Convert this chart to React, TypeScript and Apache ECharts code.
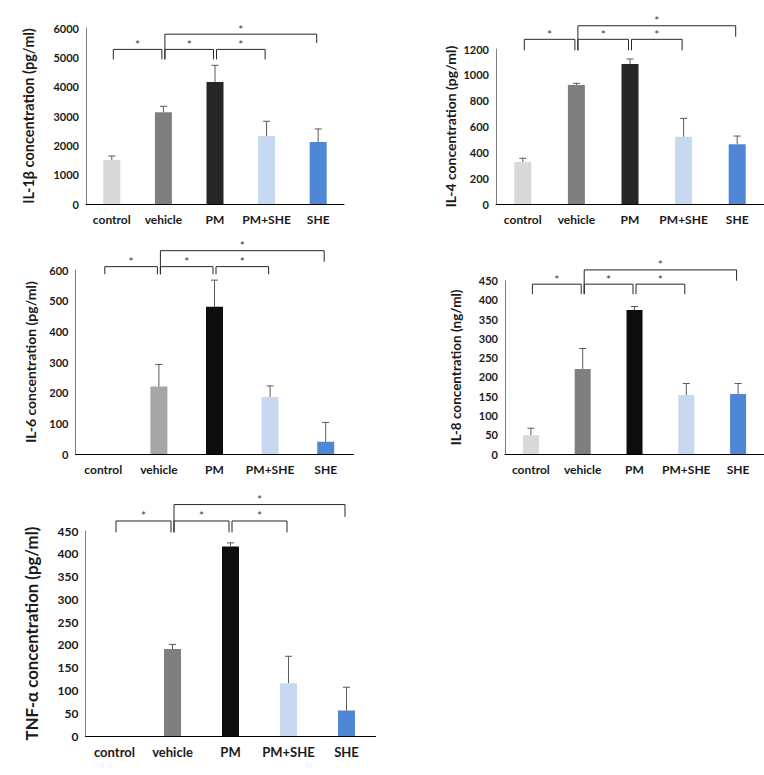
import React, { useEffect, useRef } from 'react';
import * as echarts from 'echarts';

const categories = ['control', 'vehicle', 'PM', 'PM+SHE', 'SHE'];

const il1bMean = [1500, 3125, 4160, 2320, 2115];
const il1bErr = [136, 205, 568, 500, 443];
const il4Mean = [325, 921, 1084, 521, 462];
const il4Err = [29, 13, 39, 142, 64];
const il6Mean = [0, 220, 480, 186, 40];
const il6Err = [0, 72, 87, 36, 63];
const il8Mean = [49, 221, 374, 153, 156];
const il8Err = [18, 53, 9, 30, 27];
const tnfMean = [0, 191, 416, 116, 56];
const tnfErr = [0, 10, 8, 59, 51];

// brackets: [fromIndex, toIndex, lineValue, leftDropValue, rightDropValue]
const il1bBrackets = [[0, 1, 5270, 4930, 4930], [1, 2, 5270, 4930, 4930], [2, 3, 5270, 4930, 4930], [1, 4, 5790, 4930, 5490]];
const il4Brackets = [[0, 1, 1275, 1190, 1190], [1, 2, 1275, 1190, 1190], [2, 3, 1275, 1190, 1190], [1, 4, 1380, 1190, 1295]];
const il6Brackets = [[0, 1, 611, 586, 586], [1, 2, 611, 586, 586], [2, 3, 611, 586, 586], [1, 4, 663, 586, 627]];
const il8Brackets = [[0, 1, 441, 415, 415], [1, 2, 441, 415, 415], [2, 3, 441, 415, 415], [1, 4, 478, 415, 450]];
const tnfBrackets = [[0, 1, 472, 447, 447], [1, 2, 472, 447, 447], [2, 3, 472, 447, 447], [1, 4, 508, 447, 481]];

const colorsA = ['#d9d9d9', '#7f7f7f', '#262626', '#c6d9f1', '#4f87d6'];
const colorsB = ['#d9d9d9', '#a6a6a6', '#0d0d0d', '#c6d9f1', '#4f87d6'];
const colorsC = ['#d9d9d9', '#7f7f7f', '#0d0d0d', '#c6d9f1', '#4f87d6'];

const FONT = 'Lato, "Noto Sans", sans-serif';

type PanelCfg = {
  grid: { left: number; top: number; width: number; height: number };
  name: string;
  max: number;
  interval: number;
  means: number[];
  errs: number[];
  colors: string[];
  brackets: number[][];
  nameGap: number;
  nameSize: number;
  tickSize: number;
  catSize: number;
  barWidth: number;
};

const panels: PanelCfg[] = [
  { grid: { left: 86, top: 28, width: 258, height: 176 }, name: 'IL-1β concentration (pg/ml)', max: 6000, interval: 1000, means: il1bMean, errs: il1bErr, colors: colorsA, brackets: il1bBrackets, nameGap: 50, nameSize: 14.5, tickSize: 11, catSize: 12, barWidth: 17 },
  { grid: { left: 496, top: 49, width: 268, height: 155 }, name: 'IL-4 concentration (pg/ml)', max: 1200, interval: 200, means: il4Mean, errs: il4Err, colors: colorsA, brackets: il4Brackets, nameGap: 39, nameSize: 14, tickSize: 11, catSize: 12, barWidth: 17 },
  { grid: { left: 75.5, top: 270, width: 278, height: 184 }, name: 'IL-6 concentration (pg/ml)', max: 600, interval: 100, means: il6Mean, errs: il6Err, colors: colorsB, brackets: il6Brackets, nameGap: 38, nameSize: 14, tickSize: 11, catSize: 12, barWidth: 17 },
  { grid: { left: 505, top: 280.7, width: 259, height: 173.3 }, name: 'IL-8 concentration (ng/ml)', max: 450, interval: 50, means: il8Mean, errs: il8Err, colors: colorsC, brackets: il8Brackets, nameGap: 42, nameSize: 13.5, tickSize: 11, catSize: 12, barWidth: 16 },
  { grid: { left: 85.5, top: 531, width: 290, height: 205 }, name: 'TNF-α concentration (pg/ml)', max: 450, interval: 50, means: tnfMean, errs: tnfErr, colors: colorsC, brackets: tnfBrackets, nameGap: 46, nameSize: 16.8, tickSize: 12, catSize: 13, barWidth: 17 },
];

function buildOption() {
  const grid: any[] = [];
  const xAxis: any[] = [];
  const yAxis: any[] = [];
  const series: any[] = [];
  panels.forEach((p, i) => {
    grid.push({ ...p.grid, containLabel: false });
    xAxis.push({
      type: 'category',
      gridIndex: i,
      data: categories,
      axisLine: { show: true, lineStyle: { color: '#000', width: 1 } },
      axisTick: { show: false },
      axisLabel: { color: '#1a1a1a', fontWeight: 'bold', fontSize: p.catSize, fontFamily: FONT, margin: 9, interval: 0 },
      splitLine: { show: false },
    });
    yAxis.push({
      type: 'value',
      gridIndex: i,
      min: 0,
      max: p.max,
      interval: p.interval,
      name: p.name,
      nameLocation: 'middle',
      nameRotate: 90,
      nameGap: p.nameGap,
      nameTextStyle: { color: '#1a1a1a', fontWeight: 'bold', fontSize: p.nameSize, fontFamily: FONT },
      axisLine: { show: true, lineStyle: { color: '#7f7f7f', width: 1 } },
      axisTick: { show: false },
      axisLabel: { color: '#1a1a1a', fontWeight: 'bold', fontSize: p.tickSize, fontFamily: FONT, margin: 7, formatter: (v: number) => String(v) },
      splitLine: { show: false },
    });
    series.push({
      type: 'bar',
      xAxisIndex: i,
      yAxisIndex: i,
      barWidth: p.barWidth,
      data: p.means.map((v, k) => ({ value: v, itemStyle: { color: p.colors[k] } })),
      z: 2,
    });
    series.push({
      type: 'custom',
      xAxisIndex: i,
      yAxisIndex: i,
      z: 3,
      encode: { x: 0, y: 1 },
      data: p.means.map((v, k) => [k, v, p.errs[k]]),
      renderItem: (params: any, api: any) => {
        const x = api.value(0);
        const v = api.value(1);
        const e = api.value(2);
        if (!e) return null;
        const p0 = api.coord([x, v]);
        const p1 = api.coord([x, v + e]);
        const st = { stroke: '#595959', lineWidth: 1 };
        return {
          type: 'group',
          children: [
            { type: 'line', shape: { x1: p0[0], y1: p0[1], x2: p1[0], y2: p1[1] }, style: st },
            { type: 'line', shape: { x1: p1[0] - 3.5, y1: p1[1], x2: p1[0] + 3.5, y2: p1[1] }, style: st },
          ],
        };
      },
    });
    series.push({
      type: 'custom',
      xAxisIndex: i,
      yAxisIndex: i,
      z: 4,
      clip: false,
      encode: { x: 0, y: 2 },
      data: p.brackets,
      renderItem: (params: any, api: any) => {
        const a = api.value(0);
        const b = api.value(1);
        const lineV = api.value(2);
        const dl = api.value(3);
        const dr = api.value(4);
        const pa = api.coord([a, lineV]);
        const pb = api.coord([b, lineV]);
        const pdl = api.coord([a, dl]);
        const pdr = api.coord([b, dr]);
        const xl = pa[0] + 1.5;
        const xr = pb[0] - 1.5;
        return {
          type: 'group',
          children: [
            {
              type: 'polyline',
              shape: { points: [[xl, pdl[1]], [xl, pa[1]], [xr, pb[1]], [xr, pdr[1]]] },
              style: { stroke: '#262626', lineWidth: 1, fill: 'none' },
            },
            {
              type: 'text',
              x: (xl + xr) / 2,
              y: pa[1] - 5,
              style: { text: '*', fill: '#404040', fontSize: 12, fontFamily: FONT, align: 'center', verticalAlign: 'middle' },
            },
          ],
        };
      },
    });
  });
  return { animation: false, backgroundColor: '#fff', grid, xAxis, yAxis, series };
}

export default function App() {
  const ref = useRef<HTMLDivElement>(null);
  useEffect(() => {
    if (!ref.current) return;
    const chart = echarts.init(ref.current, undefined, { renderer: 'svg' });
    chart.setOption(buildOption() as any);
    return () => chart.dispose();
  }, []);
  return <div ref={ref} style={{ position: 'fixed', left: 0, top: 0, width: 764, height: 775, background: '#fff' }} />;
}
